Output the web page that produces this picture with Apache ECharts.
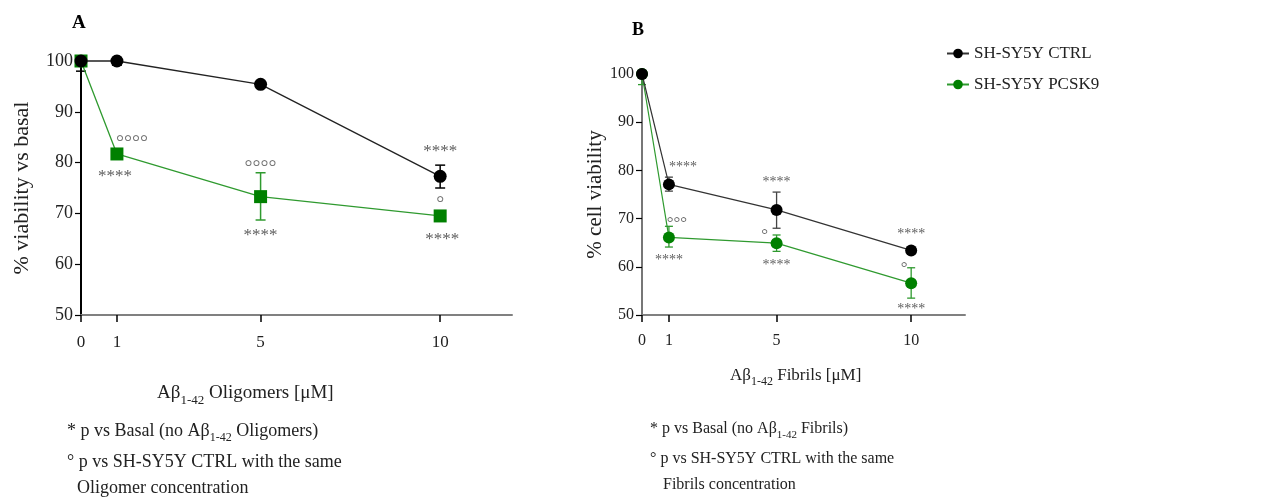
<!DOCTYPE html>
<html><head><meta charset="utf-8">
<script src="https://cdn.jsdelivr.net/npm/echarts@6/dist/echarts.min.js"></script>
<style>html,body{margin:0;padding:0;background:#fff}#c{width:1262px;height:501px}</style>
</head><body><div id="c"></div>
<script>
// ---- data ----
const xConc = [0, 1, 5, 10];
const xTickLabels = [0, 1, 5, 10];
const yTicks = [50, 60, 70, 80, 90, 100];
// Panel A: oligomers
const ctrlA = [100, 100, 95.4, 77.3];
const ctrlAUp = [0, 0, 0, 2.2];
const ctrlADn = [2, 0.8, 0.3, 2.3];
const pcskA = [100, 81.7, 73.3, 69.5];
const pcskAUp = [0, 0.4, 4.7, 0.4];
const pcskADn = [0.5, 0.4, 4.6, 0.4];
// Panel B: fibrils
const ctrlB = [100, 77.1, 71.8, 63.4];
const ctrlBUp = [0, 1.5, 3.7, 0.5];
const ctrlBDn = [0, 1.4, 3.8, 0.5];
const pcskB = [100, 66.1, 64.9, 56.6];
const pcskBUp = [0, 2.3, 1.7, 3.2];
const pcskBDn = [2.2, 2.0, 1.7, 3.1];
// significance marks
const starsA_pcsk = ['', '****', '****', '****'];
const circA_pcsk = ['', '°°°°', '°°°°', '°'];
const starsA_ctrl = ['', '', '', '****'];
const starsB_ctrl = ['', '****', '****', '****'];
const starsB_pcsk = ['', '****', '****', '****'];
const circB_pcsk = ['', '°°°', '°', '°'];

const FONT = 'Liberation Serif';
const BLACK = '#000000', GREEN = '#008000', GREENLINE = '#2f9a2f';

function errData(x, y, up, dn) { return x.map((v, i) => [v, y[i], y[i] - dn[i], y[i] + up[i], up[i], dn[i]]); }
function errSeries(data, xi, yi, color, capW, lw) {
  return {
    type: 'custom', xAxisIndex: xi, yAxisIndex: yi, data: data, clip: false, silent: true, z: 1,
    renderItem: function (params, api) {
      const x = api.value(0), lo = api.value(2), hi = api.value(3), up = api.value(4), dn = api.value(5);
      const pLo = api.coord([x, lo]), pHi = api.coord([x, hi]);
      const children = [{ type: 'line', shape: { x1: pLo[0], y1: pLo[1], x2: pHi[0], y2: pHi[1] }, style: { stroke: color, lineWidth: lw } }];
      if (dn > 0) children.push({ type: 'line', shape: { x1: pLo[0] - capW / 2, y1: pLo[1], x2: pLo[0] + capW / 2, y2: pLo[1] }, style: { stroke: color, lineWidth: lw } });
      if (up > 0) children.push({ type: 'line', shape: { x1: pHi[0] - capW / 2, y1: pHi[1], x2: pHi[0] + capW / 2, y2: pHi[1] }, style: { stroke: color, lineWidth: lw } });
      return { type: 'group', children: children };
    }
  };
}
function annSeries(texts, yvals, xi, yi, dx, dy, fs, color) {
  const data = [];
  texts.forEach((t, i) => {
    if (!t) return;
    const o = [Array.isArray(dx) ? dx[i] : dx, Array.isArray(dy) ? dy[i] : dy];
    data.push({ value: [xConc[i], yvals[i]], label: { formatter: t, offset: o } });
  });
  return {
    type: 'scatter', xAxisIndex: xi, yAxisIndex: yi, symbolSize: 1, itemStyle: { color: 'rgba(0,0,0,0)' },
    silent: true, z: 6, data: data,
    label: { show: true, position: 'inside', fontFamily: FONT, fontSize: fs, color: color, align: 'center', verticalAlign: 'middle' }
  };
}
function richStyle(fs) {
  const sfs = Math.round(fs * 0.68);
  return { fontFamily: FONT, fontSize: fs, fontWeight: 'normal', color: '#222',
    rich: {
      n: { fontSize: fs, lineHeight: fs, verticalAlign: 'top', fontFamily: FONT, color: '#222' },
      s: { fontSize: sfs, lineHeight: Math.round(fs * 1.75), verticalAlign: 'middle', fontFamily: FONT, color: '#222' }
    } };
}
const plain = (fs) => ({ fontFamily: FONT, fontSize: fs, fontWeight: 'normal', color: '#222', lineHeight: fs });

const xAxisCommon = (gi, lineColor, fs, margin) => ({
  type: 'value', gridIndex: gi, min: 0, max: 12,
  axisLine: { show: true, onZero: false, lineStyle: { color: lineColor, width: 2 } },
  axisTick: { show: true, customValues: xTickLabels, length: 7, lineStyle: { color: '#000', width: 1.5 } },
  axisLabel: { customValues: xTickLabels, fontFamily: FONT, fontSize: fs, color: '#222', margin: margin },
  splitLine: { show: false }
});
const yAxisCommon = (gi, name, lineColor, fs, nameGap, nfs) => ({
  type: 'value', gridIndex: gi, min: 50, max: 100, interval: 10,
  name: name, nameLocation: 'middle', nameGap: nameGap, nameRotate: 90,
  nameTextStyle: { fontFamily: FONT, fontSize: nfs, color: '#222' },
  axisLine: { show: true, lineStyle: { color: lineColor, width: 2 } },
  axisTick: { show: true, length: 6, lineStyle: { color: '#000', width: 1.2 } },
  axisLabel: { fontFamily: FONT, fontSize: fs, color: '#222', margin: 8 },
  splitLine: { show: false }
});

const option = {
  backgroundColor: '#fff',
  animation: false,
  grid: [
    { left: 81, top: 61, width: 431, height: 254 },
    { left: 642, top: 74, width: 323, height: 241 }
  ],
  xAxis: [xAxisCommon(0, '#808080', 17, 19), xAxisCommon(1, '#808080', 16, 18)],
  yAxis: [yAxisCommon(0, '% viability vs basal', '#000', 18, 48, 22), yAxisCommon(1, '% cell viability', '#777', 16, 30, 21)],
  legend: {
    orient: 'vertical', left: 941, top: 40, itemWidth: 22, itemHeight: 12, itemGap: 14,
    data: ['SH-SY5Y CTRL', 'SH-SY5Y PCSK9'],
    textStyle: { fontFamily: FONT, fontSize: 17, color: '#222' }
  },
  title: [
    { text: 'A', left: 72, top: 14, padding: 0, textStyle: { fontFamily: FONT, fontSize: 19, fontWeight: 'bold', color: '#000' } },
    { text: 'B', left: 632, top: 21, padding: 0, textStyle: { fontFamily: FONT, fontSize: 18, fontWeight: 'bold', color: '#000' } },
    { text: '{n|Aβ}{s|1-42}{n| Oligomers [μM]}', left: 157, top: 384, padding: 0, textStyle: richStyle(19) },
    { text: '{n|Aβ}{s|1-42}{n| Fibrils [μM]}', left: 730, top: 367, padding: 0, textStyle: richStyle(17) },
    { text: '{n|* p vs Basal (no Aβ}{s|1-42}{n| Oligomers)}', left: 67, top: 422, padding: 0, textStyle: richStyle(18) },
    { text: '° p vs SH-SY5Y CTRL with the same', left: 67, top: 453, padding: 0, textStyle: plain(18) },
    { text: 'Oligomer concentration', left: 77, top: 479, padding: 0, textStyle: plain(18) },
    { text: '{n|* p vs Basal (no Aβ}{s|1-42}{n| Fibrils)}', left: 650, top: 421, padding: 0, textStyle: richStyle(16) },
    { text: '° p vs SH-SY5Y CTRL with the same', left: 650, top: 451, padding: 0, textStyle: plain(16) },
    { text: 'Fibrils concentration', left: 663, top: 477, padding: 0, textStyle: plain(16) }
  ],
  series: [
    // Panel B first (legend icons use circles)
    { name: 'SH-SY5Y CTRL', type: 'line', xAxisIndex: 1, yAxisIndex: 1, data: xConc.map((x, i) => [x, ctrlB[i]]),
      symbol: 'circle', symbolSize: 12, lineStyle: { color: '#333', width: 1.2 }, itemStyle: { color: BLACK }, z: 4, clip: false },
    { name: 'SH-SY5Y PCSK9', type: 'line', xAxisIndex: 1, yAxisIndex: 1, data: xConc.map((x, i) => [x, pcskB[i]]),
      symbol: 'circle', symbolSize: 12, lineStyle: { color: GREENLINE, width: 1.2 }, itemStyle: { color: GREEN }, z: 3, clip: false },
    errSeries(errData(xConc, ctrlB, ctrlBUp, ctrlBDn), 1, 1, '#444', 8, 1.3),
    errSeries(errData(xConc, pcskB, pcskBUp, pcskBDn), 1, 1, GREENLINE, 8, 1.3),
    // Panel A
    { name: 'SH-SY5Y CTRL', type: 'line', xAxisIndex: 0, yAxisIndex: 0, data: xConc.map((x, i) => [x, ctrlA[i]]),
      symbol: 'circle', symbolSize: 13, lineStyle: { color: '#222', width: 1.3 }, itemStyle: { color: BLACK }, z: 4, clip: false },
    { name: 'SH-SY5Y PCSK9', type: 'line', xAxisIndex: 0, yAxisIndex: 0, data: xConc.map((x, i) => [x, pcskA[i]]),
      symbol: 'rect', symbolSize: 13, lineStyle: { color: GREENLINE, width: 1.3 }, itemStyle: { color: GREEN }, z: 3, clip: false },
    errSeries(errData(xConc, ctrlA, ctrlAUp, ctrlADn), 0, 0, '#000', 10, 1.5),
    errSeries(errData(xConc, pcskA, pcskAUp, pcskADn), 0, 0, GREENLINE, 10, 1.5),
    // annotations A
    annSeries(starsA_pcsk, pcskA, 0, 0, [0, -2, 0, 2], [0, 23, 39, 24], 17, '#333'),
    annSeries(circA_pcsk, pcskA, 0, 0, [0, 15, 0, 0], [0, -10, -28, -11], 20, '#555'),
    annSeries(starsA_ctrl, ctrlA, 0, 0, 0, -25, 17, '#333'),
    // annotations B
    annSeries(starsB_ctrl, ctrlB, 1, 1, [0, 14, 0, 0], [0, -17, -28, -16], 14, '#333'),
    annSeries(starsB_pcsk, pcskB, 1, 1, 0, [0, 23, 22, 26], 14, '#333'),
    annSeries(circB_pcsk, pcskB, 1, 1, [0, 8, -12, -7], [0, -14, -8, -15], 17, '#444')
  ]
};
const chart = echarts.init(document.getElementById('c'), null, { renderer: 'canvas' });
chart.setOption(option);
</script>
</body></html>
